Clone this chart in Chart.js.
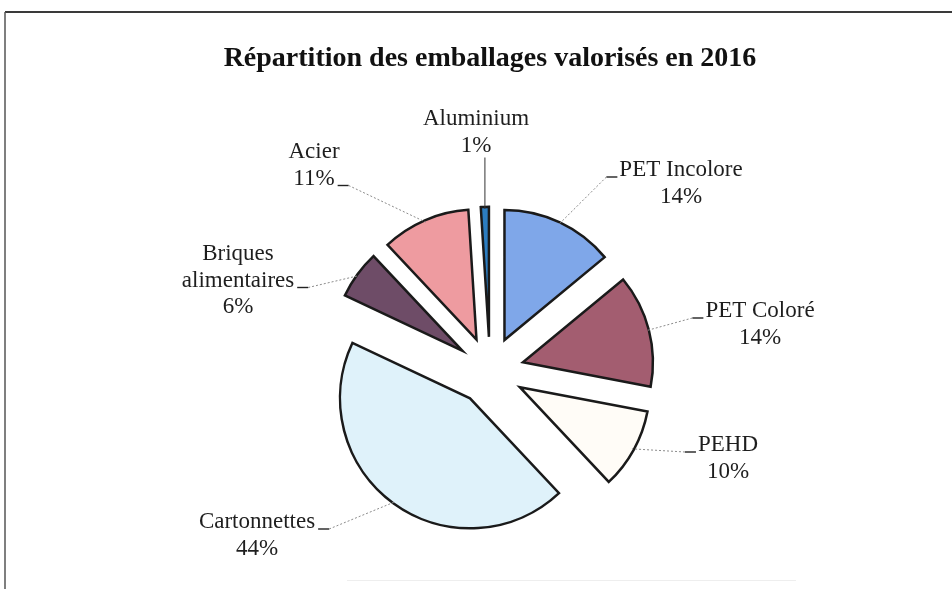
<!DOCTYPE html>
<html lang="fr">
<head>
<meta charset="utf-8">
<title>Répartition des emballages valorisés en 2016</title>
<script src="https://cdn.jsdelivr.net/npm/chart.js@4.4.1/dist/chart.umd.min.js"></script>
<style>
  html, body { margin: 0; padding: 0; background: #fff; }
  canvas { display: block; }
</style>
</head>
<body>
<canvas id="chart" width="952" height="589"></canvas>
<script>
// Data (clockwise from 12 o'clock)
const categories = ['PET Incolore', 'PET Coloré', 'PEHD', 'Cartonnettes', 'Briques alimentaires', 'Acier', 'Aluminium'];
const shares = [14, 14, 10, 44, 6, 11, 1];
const labelLines = [['PET Incolore'], ['PET Coloré'], ['PEHD'], ['Cartonnettes'], ['Briques', 'alimentaires'], ['Acier'], ['Aluminium']];
const sliceColors = ['#7fa7e9', '#a35d70', '#fffcf7', '#dff2fa', '#6e4c67', '#ee9ba0', '#2c7dc0'];

// Layout
const EXPLODE = 34;      // every slice pulled out by the same amount
const PIE_RADIUS = 130;
const LINE_GAP = 26.5;
const LABEL_FONT = '23px "Liberation Serif", "Times New Roman", serif';
// x = centre of text block, y = baseline of first line, lead = line carrying the "_" leader
const labelLayout = [
  { x: 681, y: 176, lead: 0, side: 'left' },
  { x: 760, y: 317, lead: 0, side: 'left' },
  { x: 728, y: 451, lead: 0, side: 'left' },
  { x: 257, y: 528, lead: 0, side: 'right' },
  { x: 238, y: 260, lead: 1, side: 'right' },
  { x: 314, y: 158, lead: 1, side: 'right' },
  { x: 476, y: 125, lead: 1, side: 'none' }
];

// Exploded slices: translate each arc outwards along its mid angle
const ArcBase = Chart.ArcElement || Chart.registry.getElement('arc');
const baseArcDraw = ArcBase.prototype.draw;
ArcBase.prototype.draw = function (ctx) {
  const mid = (this.startAngle + this.endAngle) / 2;
  ctx.save();
  ctx.translate(Math.cos(mid) * EXPLODE, Math.sin(mid) * EXPLODE);
  baseArcDraw.call(this, ctx);
  ctx.restore();
};

// scanned page frame
const framePlugin = {
  id: 'frame',
  beforeDraw(chart) {
    const ctx = chart.ctx;
    ctx.save();
    ctx.fillStyle = '#fff';
    ctx.fillRect(0, 0, chart.width, chart.height);
    ctx.strokeStyle = '#3a3a3a';
    ctx.lineWidth = 2;
    ctx.beginPath();
    ctx.moveTo(5, 12); ctx.lineTo(chart.width, 12);
    ctx.stroke();
    ctx.lineWidth = 1.5;
    ctx.strokeStyle = '#555';
    ctx.beginPath();
    ctx.moveTo(5, 12); ctx.lineTo(5, chart.height);
    ctx.stroke();
    ctx.strokeStyle = '#eeeeee';
    ctx.lineWidth = 1;
    ctx.beginPath();
    ctx.moveTo(347, 580.5); ctx.lineTo(796, 580.5);
    ctx.stroke();
    ctx.restore();
  }
};

const labelsPlugin = {
  id: 'sliceLabels',
  afterDatasetsDraw(chart) {
    const ctx = chart.ctx;
    const arcs = chart.getDatasetMeta(0).data;
    ctx.save();
    ctx.font = LABEL_FONT;
    ctx.textAlign = 'center';
    ctx.textBaseline = 'alphabetic';
    arcs.forEach((arc, i) => {
      const pos = labelLayout[i];
      const lines = labelLines[i].concat([shares[i] + '%']);
      const mid = (arc.startAngle + arc.endAngle) / 2;
      const r = arc.outerRadius + EXPLODE - 2;
      const ax = arc.x + Math.cos(mid) * r;
      const ay = arc.y + Math.sin(mid) * r;

      ctx.fillStyle = '#1e1e1e';
      lines.forEach((t, k) => ctx.fillText(t, pos.x, pos.y + k * LINE_GAP));

      let sx, sy;
      if (pos.side === 'none') {
        sx = ax; sy = pos.y + (lines.length - 1) * LINE_GAP + 6;
      } else {
        const w = ctx.measureText(lines[pos.lead]).width;
        const by = pos.y + pos.lead * LINE_GAP + 1;
        const ex = pos.side === 'left' ? pos.x - w / 2 - 2 : pos.x + w / 2 + 3;
        sx = pos.side === 'left' ? ex - 11 : ex + 11;
        sy = by;
        ctx.strokeStyle = '#222';
        ctx.lineWidth = 1.4;
        ctx.beginPath(); ctx.moveTo(ex, by); ctx.lineTo(sx, by); ctx.stroke();
      }
      ctx.strokeStyle = pos.side === 'none' ? '#333' : '#8c8c8c';
      ctx.lineWidth = 1;
      ctx.setLineDash(pos.side === 'none' ? [] : [2, 2]);
      ctx.beginPath(); ctx.moveTo(sx, sy); ctx.lineTo(ax, ay); ctx.stroke();
      ctx.setLineDash([]);
    });
    ctx.restore();
  }
};

new Chart(document.getElementById('chart'), {
  type: 'pie',
  data: {
    labels: categories,
    datasets: [{
      data: shares,
      backgroundColor: sliceColors,
      borderColor: '#1a1a1a',
      borderWidth: 2.5,
      borderJoinStyle: 'miter',
      radius: PIE_RADIUS
    }]
  },
  options: {
    responsive: false,
    animation: false,
    devicePixelRatio: 1,
    layout: { padding: { left: 28, right: 0, top: 0, bottom: 0 } },
    plugins: {
      legend: { display: false },
      tooltip: { enabled: false },
      title: {
        display: true,
        text: 'Répartition des emballages valorisés en 2016',
        color: '#111',
        font: { family: '"Liberation Serif", "Times New Roman", serif', size: 28, weight: 'bold' },
        padding: { top: 42, bottom: 77 }
      }
    }
  },
  plugins: [framePlugin, labelsPlugin]
});
</script>
</body>
</html>
